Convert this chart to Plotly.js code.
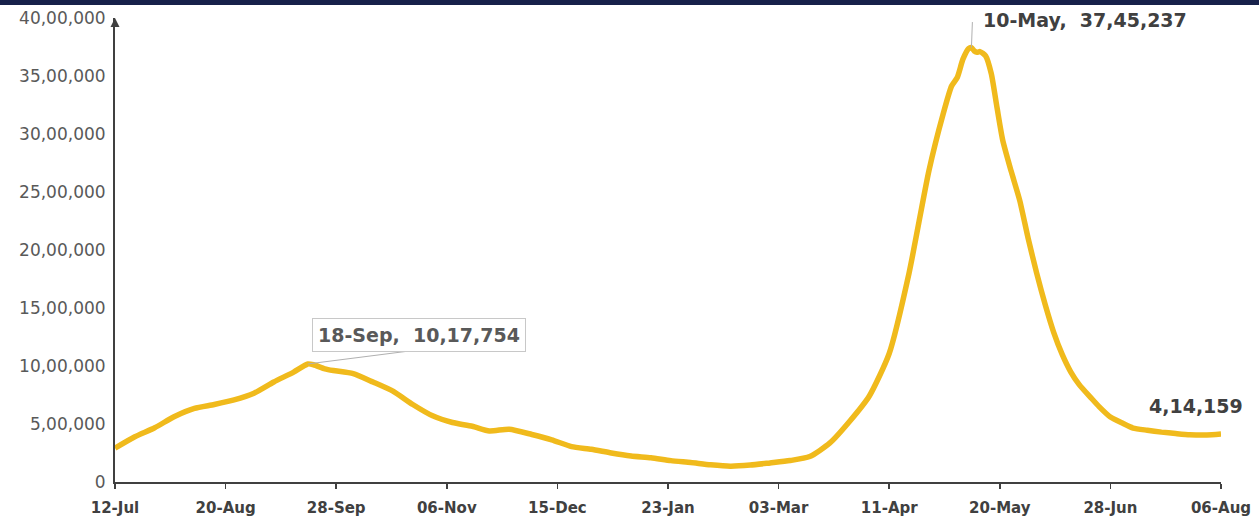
<!DOCTYPE html>
<html>
<head>
<meta charset="utf-8">
<script src="https://cdn.plot.ly/plotly-3.0.1.min.js"></script>
<style>html,body{margin:0;padding:0;background:#fff;}#chart{width:1259px;height:522px;}</style>
</head>
<body>
<div id="chart"></div>
<script>
// Active cases (India)
var dates = [
 '2020-07-12','2020-07-19','2020-07-26','2020-08-02','2020-08-09','2020-08-16','2020-08-23','2020-08-30',
 '2020-09-06','2020-09-13','2020-09-18','2020-09-20','2020-09-24','2020-09-27','2020-10-04','2020-10-11',
 '2020-10-18','2020-10-25','2020-11-01','2020-11-08','2020-11-15','2020-11-21','2020-11-28','2020-12-06',
 '2020-12-13','2020-12-20','2020-12-27','2021-01-03','2021-01-10','2021-01-17','2021-01-24','2021-01-31',
 '2021-02-07','2021-02-14','2021-02-21','2021-02-28','2021-03-07','2021-03-14','2021-03-21','2021-03-28',
 '2021-04-04','2021-04-11','2021-04-18','2021-04-25','2021-04-30','2021-05-03','2021-05-05','2021-05-07',
 '2021-05-09','2021-05-10','2021-05-11','2021-05-12','2021-05-13','2021-05-15','2021-05-17','2021-05-19',
 '2021-05-21','2021-05-24','2021-05-27','2021-05-30','2021-06-02','2021-06-05','2021-06-08','2021-06-11',
 '2021-06-14','2021-06-17','2021-06-21','2021-06-24','2021-06-28','2021-07-02','2021-07-06','2021-07-11',
 '2021-07-16','2021-07-21','2021-07-26','2021-08-01','2021-08-06'
];
var activeCases = [
 292258,390459,467882,565103,634945,668220,707668,765302,
 862320,947576,1017754,1010824,975861,960969,934427,861853,
 783311,668154,570458,512665,480719,440000,455000,409689,
 363749,305344,281919,250183,224190,208826,184408,168235,
 148590,136549,145634,164511,184598,219262,334646,521808,
 741830,1108087,1801316,2682751,3170228,3413642,3487229,3645164,
 3736648,3745237,3715221,3704099,3710525,3673802,3520000,3230000,
 2950000,2680000,2430000,2100000,1800000,1530000,1290000,1100000,
 950000,840000,730000,650000,560000,510000,465000,446000,
 430000,418000,408000,406000,414159
];
var tickDates = ['2020-07-12','2020-08-20','2020-09-28','2020-11-06','2020-12-15','2021-01-23',
                 '2021-03-03','2021-04-11','2021-05-20','2021-06-28','2021-08-06'];
var tickLabels = ['12-Jul','20-Aug','28-Sep','06-Nov','15-Dec','23-Jan','03-Mar','11-Apr','20-May','28-Jun','06-Aug'];
var yTickVals = [0,500000,1000000,1500000,2000000,2500000,3000000,3500000,4000000];
var yTickLabels = ['0','5,00,000','10,00,000','15,00,000','20,00,000','25,00,000','30,00,000','35,00,000','40,00,000'];

var calloutDates = ['2020-09-18','2021-05-10','2021-08-06'];
var calloutValues = [1017754,3745237,414159];
var calloutTexts = ['18-Sep,  10,17,754','10-May,  37,45,237','4,14,159'];

var M = {l:115, r:38, t:18, b:40};
var W = 1259, H = 522;
var pw = W - M.l - M.r, ph = H - M.t - M.b;

var trace = {
  x: dates, y: activeCases, type:'scatter', mode:'lines',
  line:{color:'#F0BA1C', width:5.5, shape:'spline', smoothing:0.6},
  hoverinfo:'x+y'
};

var FONT = 'DejaVu Sans';
var layout = {
  width:W, height:H, margin:M,
  paper_bgcolor:'#ffffff', plot_bgcolor:'#ffffff',
  showlegend:false,
  font:{family:FONT},
  xaxis:{
    type:'date', range:[tickDates[0], tickDates[tickDates.length-1]],
    tickmode:'array', tickvals:tickDates, ticktext:tickLabels,
    showgrid:false, zeroline:false,
    showline:true, linecolor:'#404040', linewidth:2,
    ticks:'outside', ticklen:5, tickwidth:1.5, tickcolor:'#404040',
    ticklabelstandoff:6,
    tickfont:{family:FONT, size:15, color:'#404040', weight:'bold'}
  },
  yaxis:{
    range:[0,4000000], tickmode:'array', tickvals:yTickVals, ticktext:yTickLabels,
    showgrid:false, zeroline:false,
    showline:true, linecolor:'#404040', linewidth:2,
    ticks:'', ticklabelstandoff:4,
    tickfont:{family:FONT, size:17, color:'#595959'}
  },
  shapes:[{
    type:'rect', xref:'paper', yref:'paper',
    x0:-M.l/pw, x1:1+M.r/pw, y0:1+(M.t-5)/ph, y1:1+(M.t+2)/ph,
    fillcolor:'#17214a', line:{width:0}, layer:'above'
  }],
  annotations:[
    {xref:'paper', yref:'paper', x:0, y:1, ax:0, ay:10, text:'', showarrow:true,
     arrowhead:2, arrowsize:0.9, arrowwidth:2, arrowcolor:'#404040', standoff:0},
    {x:calloutDates[0], y:calloutValues[0], ax:102, ay:-13, text:'', showarrow:true,
     arrowhead:0, arrowwidth:1, arrowcolor:'#b0b0b0', standoff:0},
    {x:calloutDates[0], y:calloutValues[0], text:calloutTexts[0], showarrow:false,
     xanchor:'center', yanchor:'middle', xshift:111, yshift:29,
     bordercolor:'#c8c8c8', borderwidth:1, borderpad:5, bgcolor:'#ffffff',
     font:{family:FONT, size:19, color:'#595959', weight:'bold'}},
    {x:calloutDates[1], y:calloutValues[1], ax:1, ay:-27, text:'', showarrow:true,
     arrowhead:0, arrowwidth:1, arrowcolor:'#b0b0b0', standoff:0},
    {x:calloutDates[1], y:calloutValues[1], text:calloutTexts[1], showarrow:false,
     xanchor:'left', yanchor:'middle', xshift:10, yshift:28,
     font:{family:FONT, size:19, color:'#404040', weight:'bold'}},
    {x:calloutDates[2], y:calloutValues[2], text:calloutTexts[2], showarrow:false,
     xanchor:'center', yanchor:'middle', xshift:-25, yshift:28,
     font:{family:FONT, size:19, color:'#404040', weight:'bold'}}
  ]
};

Plotly.newPlot('chart', [trace], layout, {displayModeBar:false, staticPlot:true});
</script>
</body>
</html>
